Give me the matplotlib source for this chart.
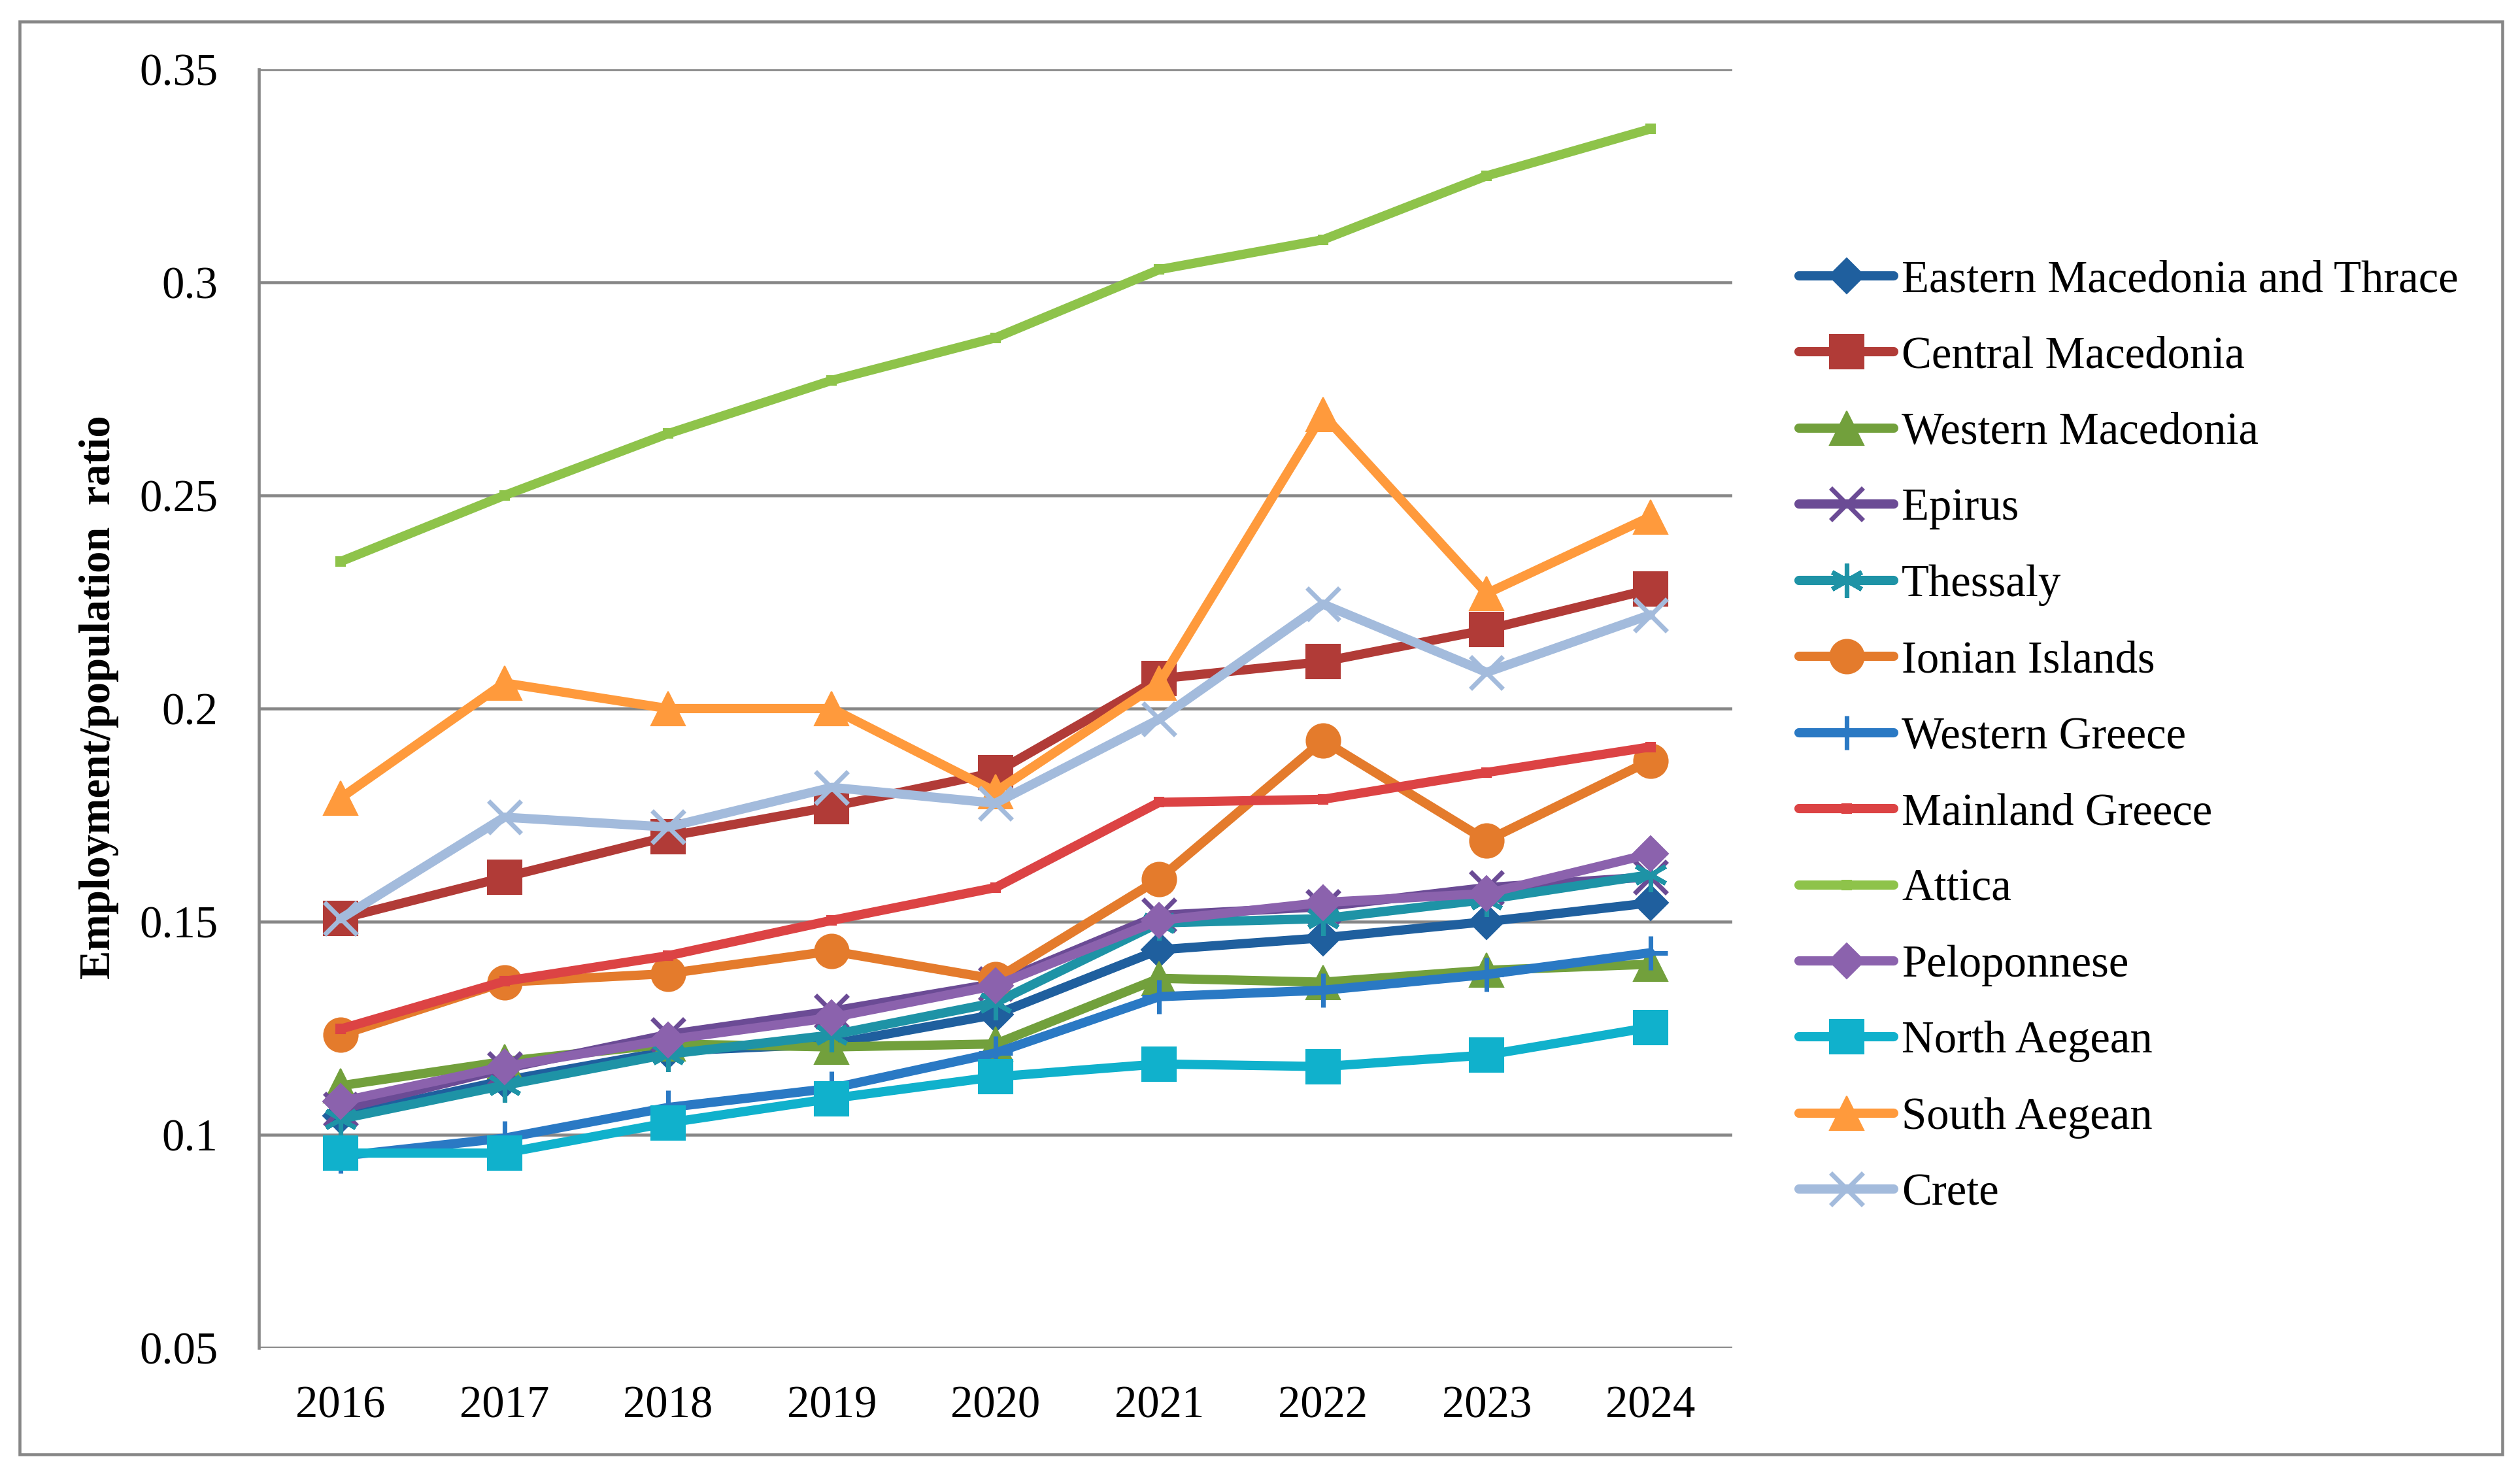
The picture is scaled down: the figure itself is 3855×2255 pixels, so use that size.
import matplotlib
matplotlib.use("Agg")
import matplotlib.pyplot as plt
from matplotlib.patches import Rectangle

years = [2016, 2017, 2018, 2019, 2020, 2021, 2022, 2023, 2024]

regions = ["Eastern Macedonia and Thrace", "Central Macedonia", "Western Macedonia",
           "Epirus", "Thessaly", "Ionian Islands", "Western Greece", "Mainland Greece",
           "Attica", "Peloponnese", "North Aegean", "South Aegean", "Crete"]

east_mac_thrace = [0.1044, 0.1127, 0.1196, 0.1213, 0.1282, 0.1434, 0.1462, 0.1500, 0.1544]
central_mac = [0.1507, 0.1604, 0.1700, 0.1770, 0.1850, 0.2070, 0.2110, 0.2185, 0.2280]
western_mac = [0.1115, 0.1172, 0.1213, 0.1206, 0.1213, 0.1367, 0.1358, 0.1386, 0.1400]
epirus = [0.1060, 0.1155, 0.1235, 0.1290, 0.1355, 0.1515, 0.1535, 0.1580, 0.1605]
thessaly = [0.1037, 0.1116, 0.1189, 0.1234, 0.1310, 0.1497, 0.1507, 0.1552, 0.1610]
ionian = [0.1234, 0.1358, 0.1378, 0.1431, 0.1365, 0.1600, 0.1925, 0.1690, 0.1878]
western_greece = [0.0950, 0.0992, 0.1064, 0.1109, 0.1192, 0.1324, 0.1339, 0.1376, 0.1427]
mainland = [0.1248, 0.1360, 0.1420, 0.1503, 0.1580, 0.1780, 0.1787, 0.1850, 0.1910]
attica = [0.2345, 0.2500, 0.2645, 0.2770, 0.2870, 0.3030, 0.3100, 0.3250, 0.3360]
peloponnese = [0.1078, 0.1160, 0.1223, 0.1275, 0.1350, 0.1503, 0.1545, 0.1566, 0.1659]
north_aegean = [0.0957, 0.0957, 0.1028, 0.1085, 0.1136, 0.1166, 0.1160, 0.1187, 0.1252]
south_aegean = [0.1790, 0.2060, 0.2000, 0.2000, 0.1805, 0.2060, 0.2690, 0.2270, 0.2450]
crete = [0.1507, 0.1745, 0.1722, 0.1815, 0.1778, 0.1975, 0.2245, 0.2085, 0.2220]

series = [east_mac_thrace, central_mac, western_mac, epirus, thessaly, ionian,
          western_greece, mainland, attica, peloponnese, north_aegean, south_aegean, crete]

colors = ["#1f5f9e", "#b13b37", "#72a03c", "#6b4b95", "#1e93a6", "#e47b2c", "#2a79c4",
          "#dc4344", "#8ec34a", "#8b62ad", "#10b1cc", "#ff9a3c", "#a3bbdc"]
# marker, size, edge width
markers = [("D", 9, 0.5), ("s", 12.5, 0.5), ("^", 12.5, 0.5), ("x", 12, 1.7),
           ((6, 2, 0), 12.5, 1.7), ("o", 12.5, 0.5), ("+", 12.5, 1.7), ("s", 3.5, 0.5),
           ("s", 3.5, 0.5), ("D", 9, 0.5), ("s", 12.5, 0.5), ("^", 12.5, 0.5), ("x", 12, 1.7)]

plt.rcParams["font.family"] = ["Liberation Serif", "DejaVu Serif"]

fig = plt.figure(figsize=(12.85, 7.5167), dpi=300)
ax = fig.add_axes([0.1027, 0.0856, 0.5847, 0.8674])

grid_c = "#878787"
for i, vals in enumerate(series):
    m, ms, mew = markers[i]
    ax.plot(years, vals, color=colors[i], lw=3.4, marker=m, markersize=ms,
            markeredgewidth=mew, markerfacecolor=colors[i], markeredgecolor=colors[i],
            solid_capstyle="round", label=regions[i], zorder=3 + i)

ax.set_xlim(2015.5, 2024.5)
ax.set_ylim(0.05, 0.35)
ax.set_xticks(years)
ax.set_yticks([0.05, 0.1, 0.15, 0.2, 0.25, 0.3, 0.35])
ax.set_yticklabels(["0.05", "0.1", "0.15", "0.2", "0.25", "0.3", "0.35"])
ax.yaxis.grid(True, color=grid_c, lw=1.1, zorder=1)
ax.set_axisbelow(True)
for s in ["top", "right", "bottom"]:
    ax.spines[s].set_visible(False)
ax.spines["left"].set_color(grid_c)
ax.spines["left"].set_linewidth(1.1)
ax.tick_params(axis="both", length=0, labelsize=16.5, colors="black")
ax.tick_params(axis="y", pad=15)
ax.tick_params(axis="x", pad=14)

fig.text(0.0394, 0.527, "Employment/population  ratio", rotation=90, ha="center",
         va="center", fontsize=16, fontweight="bold")

leg = fig.legend(loc="center left", bbox_to_anchor=(0.714, 0.4998), frameon=False,
                 fontsize=16.5, handlelength=2.1, handletextpad=0.18, labelspacing=0.77,
                 borderpad=0, borderaxespad=0)

fig.patches.append(Rectangle((30 / 3855, 1 - 2225 / 2255), (3828 - 30) / 3855,
                             (2225 - 33) / 2255, transform=fig.transFigure,
                             fill=False, edgecolor=grid_c, lw=1.1))

fig.savefig("out.png", dpi=300)
